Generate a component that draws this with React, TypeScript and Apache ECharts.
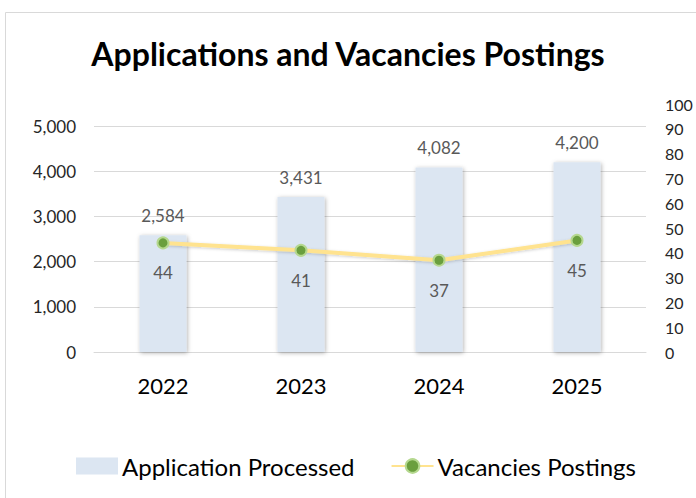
import React, { useEffect, useRef } from "react";
import * as echarts from "echarts";

const categories = ["2022", "2023", "2024", "2025"];
const applications = [2584, 3431, 4082, 4200];
const vacancies = [44, 41, 37, 45];
const titleText = "Applications and Vacancies Postings";
const seriesNames = ["Application Processed", "Vacancies Postings"];

export default function App() {
  const ref = useRef<HTMLDivElement>(null);
  useEffect(() => {
    if (!ref.current) return;
    const chart = echarts.init(ref.current, null, { renderer: "svg" });
    const font = "Lato, 'Open Sans', sans-serif";
    chart.setOption({
      animation: false,
      backgroundColor: "#ffffff",
      textStyle: { fontFamily: font },
      title: {
        text: titleText,
        left: "center",
        top: 32,
        textStyle: { fontSize: 32, fontWeight: "bold", color: "#000000", fontFamily: font },
      },
      graphic: [
        {
          type: "rect",
          shape: { x: 5.5, y: 12.5, width: 720, height: 520 },
          style: { fill: "none", stroke: "#d9d9d9", lineWidth: 1 },
          silent: true,
        },
      ],
      legend: {
        top: 449,
        left: 71,
        itemWidth: 42,
        itemHeight: 17,
        itemGap: 36,
        textStyle: { fontSize: 24, color: "#000000", fontFamily: font, padding: [0, 0, 0, -1] },
        data: [
          { name: seriesNames[0], icon: "rect" },
          { name: seriesNames[1] },
        ],
      },
      grid: [
        { left: 94, right: 50, top: 126, bottom: 146 },
        { left: 94, right: 50, top: 104, bottom: 146 },
      ],
      xAxis: [
        {
          type: "category",
          gridIndex: 0,
          data: categories,
          axisTick: { show: false },
          axisLine: { lineStyle: { color: "#d9d9d9", width: 1 } },
          axisLabel: { fontSize: 22, color: "#000000", margin: 22, fontFamily: font },
        },
        {
          type: "category",
          gridIndex: 1,
          data: categories,
          show: false,
        },
      ],
      yAxis: [
        {
          type: "value",
          gridIndex: 0,
          min: 0,
          max: 5000,
          interval: 1000,
          axisLine: { show: false },
          axisTick: { show: false },
          splitLine: { lineStyle: { color: "#d9d9d9", width: 1 } },
          axisLabel: {
            fontSize: 17,
            color: "#262626",
            margin: 18,
            fontFamily: font,
            formatter: (v: number) => v.toLocaleString("en-US"),
          },
        },
        {
          type: "value",
          gridIndex: 1,
          position: "right",
          min: 0,
          max: 100,
          interval: 10,
          axisLine: { show: false },
          axisTick: { show: false },
          splitLine: { show: false },
          axisLabel: { fontSize: 16, color: "#262626", margin: 19, fontFamily: font },
        },
      ],
      series: [
        {
          name: seriesNames[0],
          type: "bar",
          xAxisIndex: 0,
          yAxisIndex: 0,
          data: applications,
          barWidth: 47,
          itemStyle: {
            color: "#dce6f2",
            shadowBlur: 4,
            shadowColor: "rgba(0,0,0,0.3)",
            shadowOffsetX: 1,
            shadowOffsetY: 1,
          },
          label: {
            show: true,
            position: "top",
            distance: 11,
            fontSize: 17,
            color: "#595959",
            fontFamily: font,
            formatter: (p: any) => Number(p.value).toLocaleString("en-US"),
          },
        },
        {
          name: seriesNames[1],
          type: "line",
          xAxisIndex: 1,
          yAxisIndex: 1,
          data: vacancies,
          symbol: "circle",
          symbolSize: 11,
          lineStyle: {
            color: "#ffe38f",
            width: 4,
            shadowBlur: 3,
            shadowColor: "rgba(0,0,0,0.2)",
            shadowOffsetY: 1,
          },
          itemStyle: { color: "#6a9f3e", borderColor: "#b5d88f", borderWidth: 2 },
          label: {
            show: true,
            position: "bottom",
            distance: 15,
            fontSize: 17,
            color: "#595959",
            fontFamily: font,
          },
          z: 5,
        },
      ],
    });
    return () => chart.dispose();
  }, []);
  return (
    <div
      ref={ref}
      style={{ position: "fixed", left: 0, top: 0, width: 696, height: 498 }}
    />
  );
}
